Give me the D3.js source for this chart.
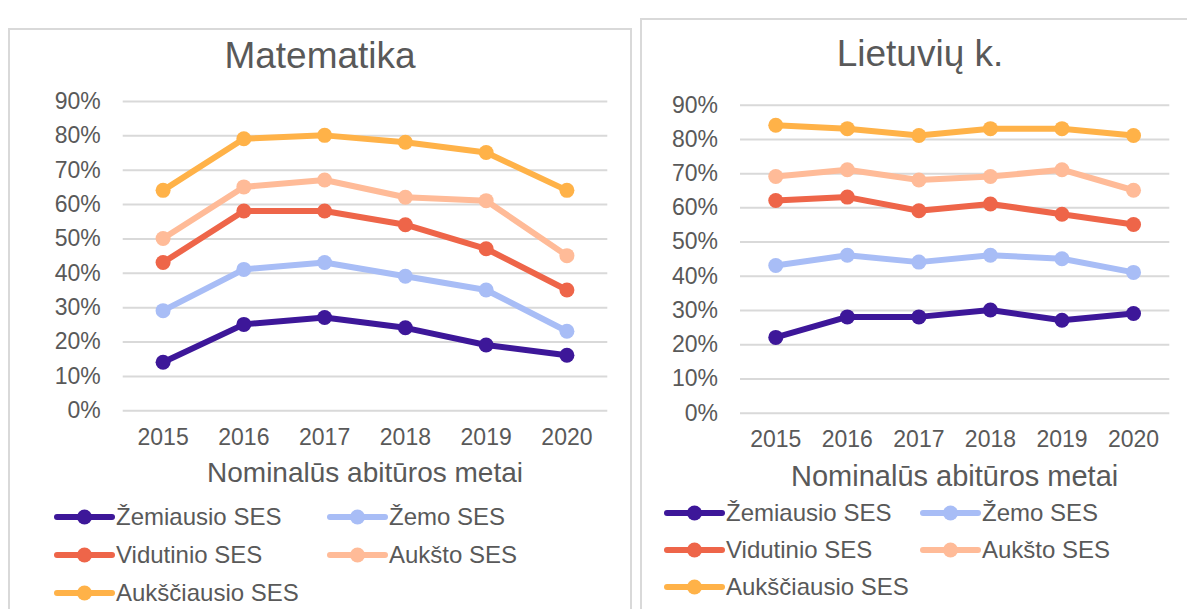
<!DOCTYPE html>
<html>
<head>
<meta charset="utf-8">
<script src="https://cdn.jsdelivr.net/npm/d3@7"></script>
<style>
  body { margin: 0; background: #fff; }
  svg { display: block; font-family: "Liberation Sans", Arial, sans-serif; }
</style>
</head>
<body>
<svg class="chart"></svg>
<script>
const width = 1187,
  height = 609;

const years = ["2015", "2016", "2017", "2018", "2019", "2020"];
const seriesNames = ["Žemiausio SES", "Žemo SES", "Vidutinio SES", "Aukšto SES", "Aukščiausio SES"];
const seriesColors = ["#3d1799", "#a8bdf6", "#ee6549", "#ffbb98", "#ffb248"];
const yTicks = [0, 0.1, 0.2, 0.3, 0.4, 0.5, 0.6, 0.7, 0.8, 0.9];

// Matematika
const matZemiausio = [0.14, 0.25, 0.27, 0.24, 0.19, 0.16];
const matZemo = [0.29, 0.41, 0.43, 0.39, 0.35, 0.23];
const matVidutinio = [0.43, 0.58, 0.58, 0.54, 0.47, 0.35];
const matAuksto = [0.50, 0.65, 0.67, 0.62, 0.61, 0.45];
const matAukSciausio = [0.64, 0.79, 0.80, 0.78, 0.75, 0.64];

// Lietuvių k.
const litZemiausio = [0.22, 0.28, 0.28, 0.30, 0.27, 0.29];
const litZemo = [0.43, 0.46, 0.44, 0.46, 0.45, 0.41];
const litVidutinio = [0.62, 0.63, 0.59, 0.61, 0.58, 0.55];
const litAuksto = [0.69, 0.71, 0.68, 0.69, 0.71, 0.65];
const litAukSciausio = [0.84, 0.83, 0.81, 0.83, 0.83, 0.81];

const textColor = "#595959";

let svg = d3.select(".chart")
  .attr("width", width)
  .attr("height", height);

function drawChart(cfg) {
  let g = svg.append("g");

  // panel frame
  g.append("rect")
    .attr("x", cfg.frame[0])
    .attr("y", cfg.frame[1])
    .attr("width", cfg.frame[2])
    .attr("height", cfg.frame[3])
    .attr("fill", "#fff")
    .attr("stroke", "#d9d9d9")
    .attr("stroke-width", 2);

  g.append("text")
    .attr("x", cfg.titleX)
    .attr("y", cfg.titleY)
    .attr("text-anchor", "middle")
    .attr("font-size", 37)
    .attr("fill", textColor)
    .text(cfg.title);

  let x = d3.scaleBand()
    .domain(years)
    .range([cfg.left, cfg.right]);
  let y = d3.scaleLinear()
    .domain([0, 0.9])
    .range([cfg.bottom, cfg.top]);

  // gridlines + y labels
  let yAxis = d3.axisLeft(y)
    .tickValues(yTicks)
    .tickFormat(d3.format(".0%"))
    .tickSize(-(cfg.right - cfg.left))
    .tickPadding(22);
  let ya = g.append("g")
    .attr("transform", `translate(${cfg.left},0)`)
    .call(yAxis);
  ya.select(".domain").remove();
  ya.selectAll(".tick line")
    .attr("stroke", "#d9d9d9")
    .attr("stroke-width", 2);
  ya.selectAll(".tick text")
    .attr("font-size", 23)
    .attr("font-family", "Liberation Sans, Arial, sans-serif")
    .attr("fill", textColor);

  // x labels
  let xAxis = d3.axisBottom(x)
    .tickSize(0)
    .tickPadding(cfg.xLabelPad);
  let xa = g.append("g")
    .attr("transform", `translate(0,${cfg.bottom})`)
    .call(xAxis);
  xa.select(".domain").remove();
  xa.selectAll(".tick text")
    .attr("font-size", 23)
    .attr("font-family", "Liberation Sans, Arial, sans-serif")
    .attr("fill", textColor);

  g.append("text")
    .attr("x", (cfg.left + cfg.right) / 2)
    .attr("y", cfg.axisTitleY)
    .attr("text-anchor", "middle")
    .attr("font-size", cfg.axisTitleSize)
    .attr("fill", textColor)
    .text("Nominalūs abitūros metai");

  let line = d3.line()
    .x((d, i) => x(years[i]) + x.bandwidth() / 2)
    .y(d => y(d));

  cfg.series.forEach((vals, s) => {
    g.append("path")
      .datum(vals)
      .attr("fill", "none")
      .attr("stroke", seriesColors[s])
      .attr("stroke-width", 6)
      .attr("stroke-linejoin", "round")
      .attr("d", line);
    g.append("g").selectAll("circle")
      .data(vals)
      .enter().append("circle")
      .attr("cx", (d, i) => x(years[i]) + x.bandwidth() / 2)
      .attr("cy", d => y(d))
      .attr("r", 7.5)
      .attr("fill", seriesColors[s]);
  });

  // legend
  seriesNames.forEach((name, s) => {
    let col = s % 2,
      row = Math.floor(s / 2);
    let lx = cfg.legendX[col],
      ly = cfg.legendY[row];
    let item = g.append("g")
      .attr("transform", `translate(${lx},${ly})`);
    item.append("line")
      .attr("x1", 0)
      .attr("x2", 55)
      .attr("stroke", seriesColors[s])
      .attr("stroke-width", 6)
      .attr("stroke-linecap", "round");
    item.append("circle")
      .attr("cx", 27.5)
      .attr("r", 7.5)
      .attr("fill", seriesColors[s]);
    item.append("text")
      .attr("x", 59)
      .attr("dy", "0.35em")
      .attr("font-size", 24)
      .attr("fill", textColor)
      .text(name);
  });
}

drawChart({
  title: "Matematika",
  frame: [9, 29, 622, 600],
  titleX: 320, titleY: 68,
  left: 122.7, right: 607.3, top: 101, bottom: 410.3,
  xLabelPad: 18,
  axisTitleY: 482, axisTitleSize: 28,
  legendX: [57, 330],
  legendY: [517, 555, 593],
  series: [matZemiausio, matZemo, matVidutinio, matAuksto, matAukSciausio]
});

drawChart({
  title: "Lietuvių k.",
  frame: [641, 19, 600, 620],
  titleX: 920, titleY: 66,
  left: 740, right: 1169.3, top: 104.7, bottom: 412.7,
  xLabelPad: 18,
  axisTitleY: 486, axisTitleSize: 29,
  legendX: [667, 923],
  legendY: [513, 550, 587],
  series: [litZemiausio, litZemo, litVidutinio, litAuksto, litAukSciausio]
});
</script>
</body>
</html>
